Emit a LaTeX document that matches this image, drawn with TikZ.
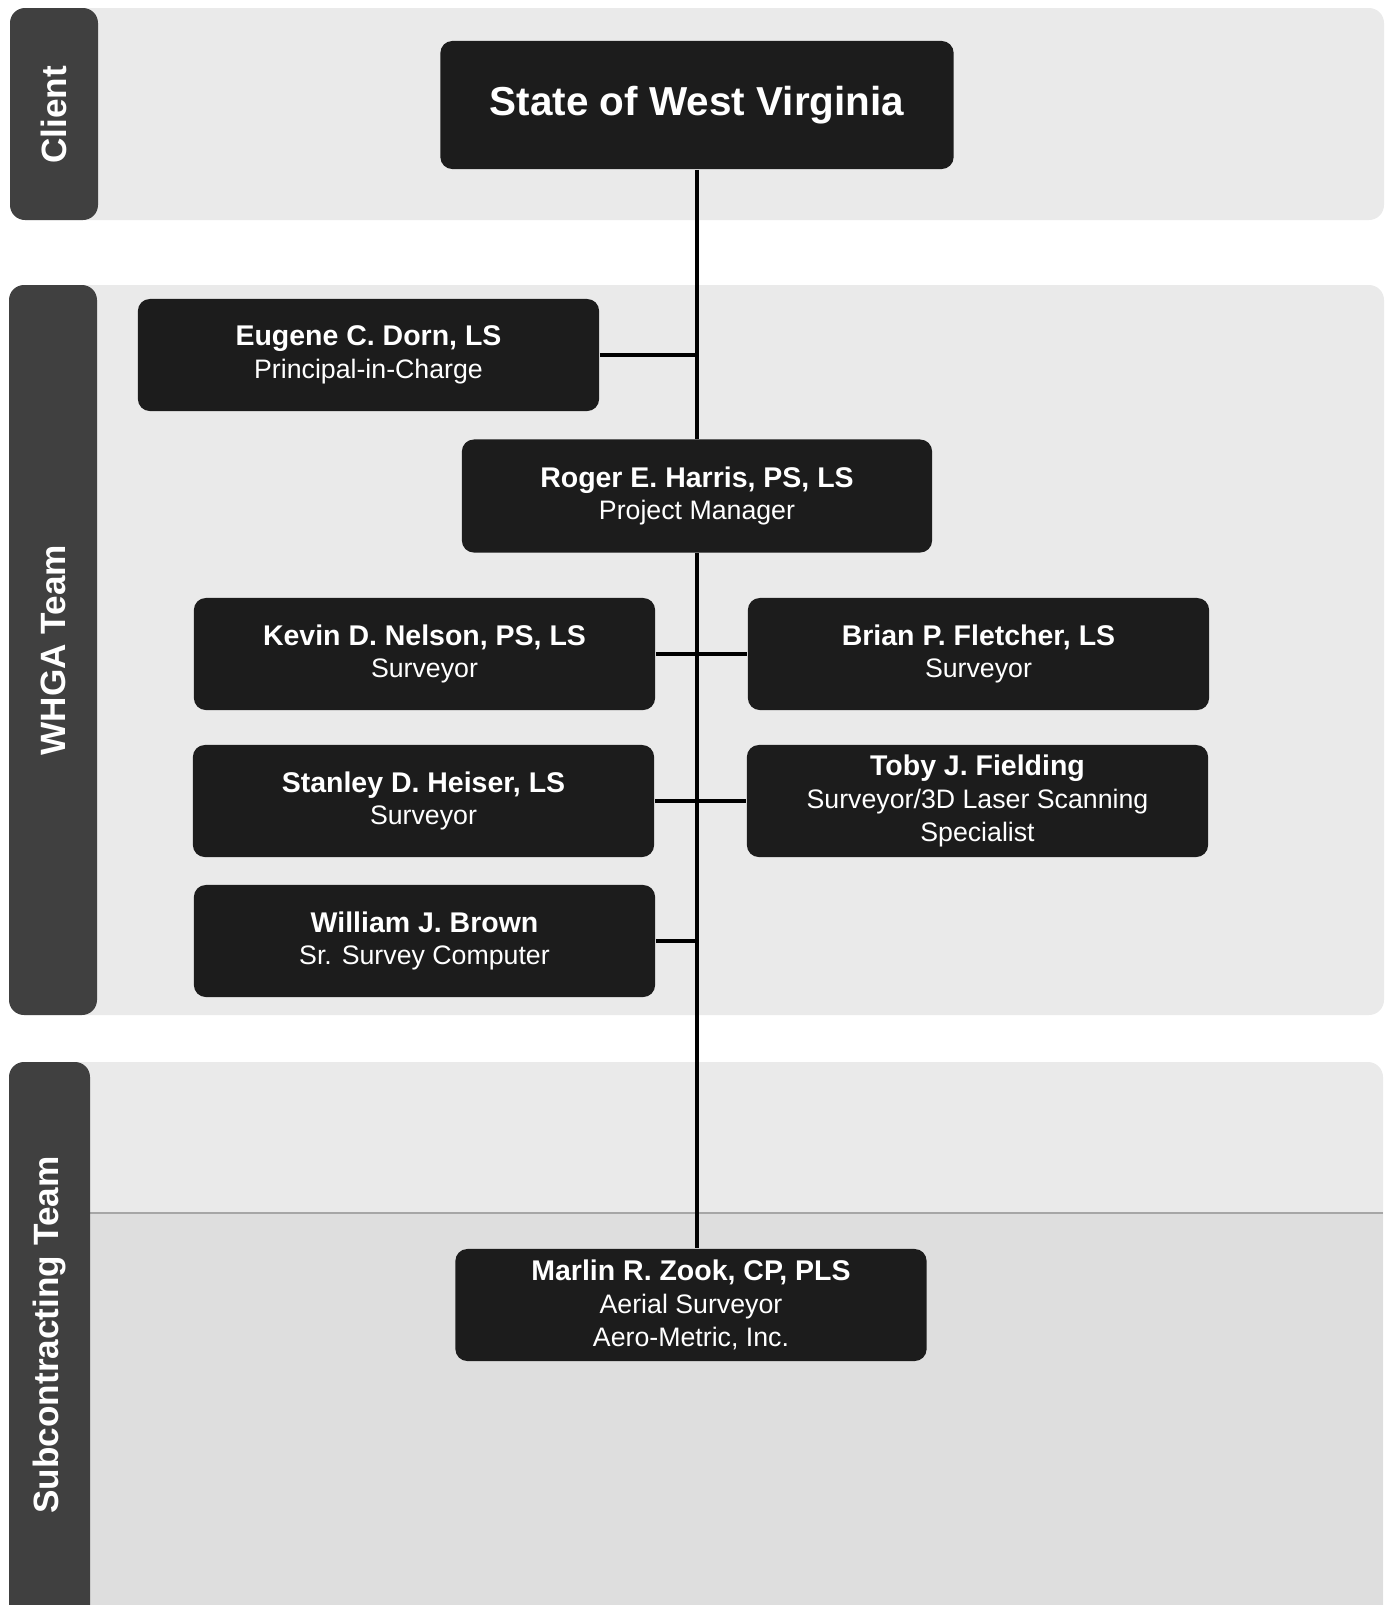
\documentclass[tikz,border=0pt]{standalone}
\usepackage{fontspec}
\setmainfont{Liberation Sans}
\usetikzlibrary{positioning}
\definecolor{boxblack}{HTML}{1C1C1C}
\definecolor{bargray}{HTML}{404040}
\definecolor{bandgray}{HTML}{EAEAEA}
\definecolor{banddark}{HTML}{DEDEDE}

\begin{document}
\begin{tikzpicture}[x=0.01cm, y=-0.01cm,
        person/.style={rectangle, rounded corners=0.12cm, fill=boxblack, text=white,
            minimum width=4.61cm, minimum height=1.12cm, align=center, inner sep=2pt,
            font=\fontsize{7.6}{9.3}\selectfont},
        teamlabel/.style={text=white, rotate=90, font=\fontsize{10}{12}\selectfont\bfseries},
        band/.style={fill=bandgray, rounded corners=0.15cm},
        bar/.style={fill=bargray, rounded corners=0.15cm},
        link/.style={line width=0.9pt}
    ]
    \newcommand{\who}[1]{{\fontsize{8.1}{9.3}\selectfont\bfseries #1}}
    \useasboundingbox (0,0) rectangle (1386,1605);
    % bands
    \fill[band] (10,8) rectangle (1384,220);
    \fill[band] (10,285) rectangle (1384,1015);
    \fill[band] (10,1062) rectangle (1383,1660);
    \fill[banddark] (90,1214) rectangle (1383,1605);
    \draw[gray!70, line width=0.3pt] (90,1213) -- (1383,1213);
    \fill[bar] (10,8) rectangle (98,220);
    \fill[bar] (9,285) rectangle (97,1015);
    \fill[bar] (9,1062) rectangle (90,1660);
    \node[teamlabel] (client) at (54,115) {Client};
    \node[teamlabel] (whga) at (53,650) {WHGA Team};
    \node[teamlabel] (sub) at (49,1335) {Subcontracting Team};

    % people
    \node[person, minimum width=5.13cm, minimum height=1.28cm,
        font=\fontsize{11.5}{13}\selectfont\bfseries] (state) at (697,105) {State of West Virginia};
    \node[person] (dorn) at (368.5,355) {\who{Eugene C. Dorn, LS}\\Principal-in-Charge};
    \node[person, minimum width=4.70cm, minimum height=1.13cm] (harris) at (697,496) {\who{Roger E. Harris, PS, LS}\\Project Manager};
    \node[person] (nelson) at (424.5,654) {\who{Kevin D. Nelson, PS, LS}\\Surveyor};
    \node[person] (fletcher) at (978.5,654) {\who{Brian P. Fletcher, LS}\\Surveyor};
    \node[person] (heiser) at (423.5,801) {\who{Stanley D. Heiser, LS}\\Surveyor};
    \node[person] (fielding) at (977.5,801) {\who{Toby J. Fielding}\\Surveyor/3D Laser Scanning\\Specialist};
    \node[person] (brown) at (424.5,941) {\who{William J. Brown}\\Sr. Survey Computer};
    \node[person, minimum width=4.71cm] (zook) at (691,1305) {\who{Marlin R. Zook, CP, PLS}\\Aerial Surveyor\\Aero-Metric, Inc.};

    % links
    \draw[link] (state.south) -- (harris.north);
    \draw[link] (dorn.east) -- (dorn.east -| harris.north);
    \draw[link] (harris.south) -- (harris.south |- zook.north);
    \draw[link] (nelson.east) -- (fletcher.west);
    \draw[link] (heiser.east) -- (fielding.west);
    \draw[link] (brown.east) -- (brown.east -| harris.south);
\end{tikzpicture}
\end{document}
